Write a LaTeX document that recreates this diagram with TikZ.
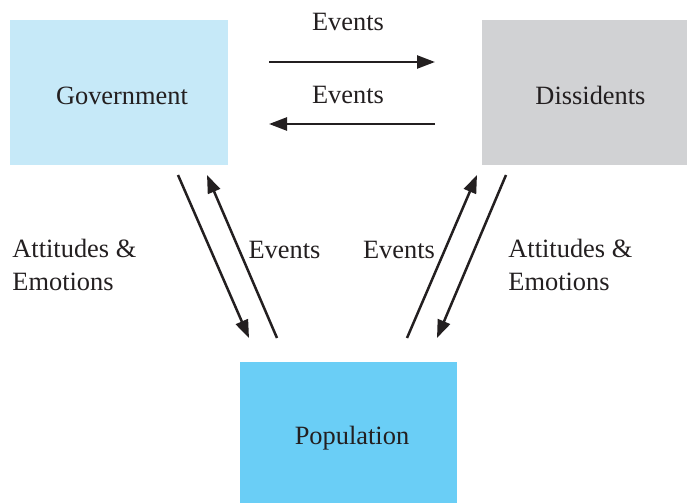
\documentclass[tikz,border=0pt]{standalone}
\usepackage{fontspec}
\setmainfont{Liberation Serif}
\usetikzlibrary{arrows.meta, positioning}

\definecolor{govblue}{HTML}{C6E9F8}
\definecolor{disgray}{HTML}{D1D2D4}
\definecolor{popblue}{HTML}{6ACEF6}
\definecolor{ink}{HTML}{231F20}

\begin{document}
\begin{tikzpicture}[x=0.5pt, y=-0.5pt,
	font=\fontsize{13.2}{16.5}\selectfont,
	box/.style={inner sep=0pt, minimum height=72.5pt},
	link/.style={-{Triangle[length=9pt, width=6.5pt]}, line width=1.25pt, draw=ink},
	lbl/.style={inner sep=0pt, text=ink, align=left}]
	\useasboundingbox (0,0) rectangle (687,503);

	\node (gov) [box, fill=govblue, minimum width=109pt,
		label={[lbl, xshift=1.5pt, yshift=-1.5pt]center:Government}] at (119,92.5) {};
	\node (dis) [box, fill=disgray, minimum width=102.5pt,
		label={[lbl, xshift=3pt, yshift=-1.5pt]center:Dissidents}] at (584.5,92.5) {};
	\node (pop) [box, fill=popblue, minimum width=108.5pt, minimum height=70.5pt,
		label={[lbl, xshift=1.75pt, yshift=-3pt]center:Population}] at (348.5,432.5) {};

	% arrow ends
	\coordinate (gd1) at (269,62);
	\coordinate (gd2) at (435,62);
	\coordinate (dg1) at (435,124);
	\coordinate (dg2) at (269,124);
	\coordinate (gp1) at (178,175);
	\coordinate (gp2) at (249,338);
	\coordinate (pg1) at (277,338);
	\coordinate (pg2) at (207,175);
	\coordinate (pd1) at (407,338);
	\coordinate (pd2) at (477,175);
	\coordinate (dp1) at (506,175);
	\coordinate (dp2) at (437,338);

	\draw [link] (gd1) -- (gd2);
	\draw [link] (dg1) -- (dg2);
	\draw [link] (gp1) -- (gp2);
	\draw [link] (pg1) -- (pg2);
	\draw [link] (pd1) -- (pd2);
	\draw [link] (dp1) -- (dp2);

	\node (ev1) [lbl] at (348,22) {Events};
	\node (ev2) [lbl] at (348,95) {Events};
	\node (ev3) [lbl] at (284.5,250) {Events};
	\node (ev4) [lbl] at (399,250) {Events};
	\node (att1) [lbl, anchor=west] at (12,264.5) {Attitudes \&\\Emotions};
	\node (att2) [lbl, anchor=west] at (508,264.5) {Attitudes \&\\Emotions};

\end{tikzpicture}
\end{document}
